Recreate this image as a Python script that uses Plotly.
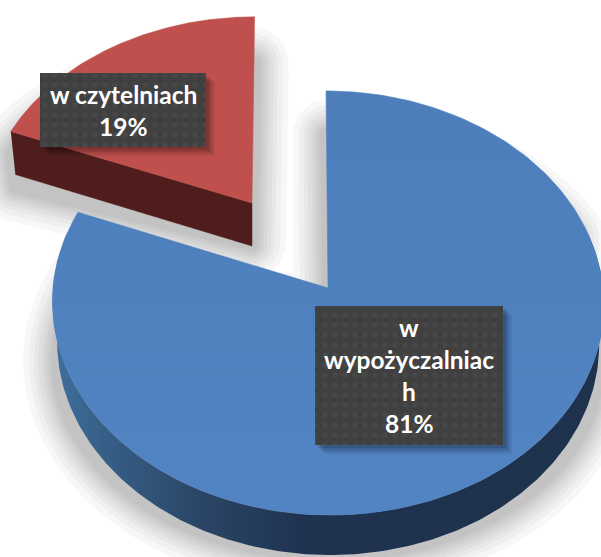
import numpy as np
import plotly.graph_objects as go

# ---- data
categories = ["w wypożyczalniach", "w czytelniach"]
shares = [81, 19]
label_lines = [["w", "wypożyczalniac", "h"], ["w czytelniach"]]

# ---- layout constants (pixels of the 601x557 page)
W, H = 601, 557
K = 0.0708            # perspective of the pie plane
RX, RY = 275, 211
STYLES = [
    dict(ax=328, ay=288, sx=1.0, sy=1.0, shear=-0.010, depth=40, shrink=0.983,
         shadow=dict(by=560, fy=0.91)),
    dict(ax=252, ay=203, sx=0.972, sy=0.945, shear=0.014, depth=43, shrink=0.981,
         shadow=dict(by=240, fy=0.80)),
]
BOXES = [(315, 306, 503, 445), (40, 73, 206, 147)]
LINE_H = 32
SHADOW_STEPS = [34, 28, 23, 19, 15, 12, 9, 6]

def rim(theta, st):
    X, Y = np.sin(theta), np.cos(theta)
    w = 1 + K * Y
    xp = st["sx"] * RX * X / w
    yp = st["sy"] * RY * Y / w
    return st["ax"] + xp + st["shear"] * yp, st["ay"] - yp

def sector(a0, a1, st):
    th = np.linspace(a0, a1, 240)
    x, y = rim(th, st)
    return np.r_[st["ax"], x, st["ax"]], np.r_[st["ay"], y, st["ay"]]

def lower(x, y, st):
    return st["ax"] + (x - st["ax"]) * st["shrink"], y + st["depth"]

# angles (clockwise from the top) come from the values
frac = np.cumsum([0] + shares) / sum(shares) * 2 * np.pi
spans = [(frac[0], frac[1]), (frac[1], frac[2])]

fig = go.Figure()

def poly(x, y, **kw):
    fig.add_trace(go.Scatter(x=x, y=y, mode="lines", fill="toself", hoverinfo="skip",
                             showlegend=False, **kw))

def hull_points(x, y):
    pts = sorted(set(zip(np.round(x, 1).tolist(), np.round(y, 1).tolist())))
    def half(p):
        out = []
        for q in p:
            while len(out) > 1 and (out[-1][0]-out[-2][0])*(q[1]-out[-2][1]) - (out[-1][1]-out[-2][1])*(q[0]-out[-2][0]) <= 0:
                out.pop()
            out.append(q)
        return out[:-1]
    h = half(pts) + half(pts[::-1])
    h.append(h[0])
    return np.array(h).T

def shadow_outline(i):
    st = STYLES[i]
    sh = st["shadow"]
    x, y = sector(*spans[i], st)
    lx, ly = lower(x, y, st)
    if i == 0:
        inner = slice(1, -1)
        rx, ry, lx2, ly2 = x[inner], y[inner], lx[inner], ly[inner]
        front = ly2 > st["ay"] - 40
        ox = np.where(front, lx2, rx)
        oy = np.where(front, ly2, ry)
        ox, oy = np.r_[st["ax"], ox, st["ax"]], np.r_[st["ay"], oy, st["ay"]]
    else:
        ox, oy = hull_points(np.r_[x, lx], np.r_[y, ly])
    return ox, sh["by"] + (oy - sh["by"]) * sh["fy"]

def offset_outline(x, y, d, n=900):
    seg = np.hypot(np.diff(x), np.diff(y))
    keep = np.r_[True, seg > 1e-6]
    x, y = x[keep], y[keep]
    s = np.r_[0, np.cumsum(np.hypot(np.diff(x), np.diff(y)))]
    t = np.linspace(0, s[-1], n)
    px, py = np.interp(t, s, x), np.interp(t, s, y)
    area = 0.5 * np.sum(px[:-1] * py[1:] - px[1:] * py[:-1])
    tx = np.roll(px[:-1], -2) - np.roll(px[:-1], 2)
    ty = np.roll(py[:-1], -2) - np.roll(py[:-1], 2)
    nrm = np.hypot(tx, ty) + 1e-9
    sign = 1 if area > 0 else -1
    ox = px[:-1] + sign * d * ty / nrm
    oy = py[:-1] - sign * d * tx / nrm
    return np.r_[ox, ox[0]], np.r_[oy, oy[0]]

# soft shadows: stacked translucent outlines
for i in range(2):
    bx, by = shadow_outline(i)
    for d in SHADOW_STEPS:
        ox, oy = offset_outline(bx, by, d)
        fig.add_trace(go.Scatter(x=ox, y=oy, mode="lines", fill="toself", hoverinfo="skip", showlegend=False,
                                 line=dict(width=0, color="black"), fillcolor="black", opacity=0.03))

# blue slice: side wall, top face
st = STYLES[0]
th = np.linspace(np.radians(75), np.radians(285), 240)
x, y = rim(th, st)
lx, ly = lower(x, y, st)
poly(np.r_[x, lx[::-1]], np.r_[y, ly[::-1]], line=dict(width=0, color="rgba(0,0,0,0)"),
     fillgradient=dict(type="horizontal", start=50, stop=610,
                       colorscale=[[0, "#40709f"], [0.09, "#376089"], [0.27, "#2a4566"], [0.45, "#1f3350"], [1, "#1e324d"]]))
x, y = sector(*spans[0], st)
poly(x, y, line=dict(width=0.6, color="#4f81bd"),
     fillgradient=dict(type="vertical", start=90, stop=515,
                       colorscale=[[0, "#4d7ebb"], [1, "#5284c3"]]))

# red slice: side wall, top face
st = STYLES[1]
a0, a1 = spans[1]
x, y = rim(np.array([a0]), st)
wx = np.r_[x[0], st["ax"]]
wy = np.r_[y[0], st["ay"]]
lwx, lwy = lower(wx, wy, st)
poly(np.r_[wx, lwx[::-1]], np.r_[wy, lwy[::-1]], line=dict(width=0.5, color="#4f1e1c"), fillcolor="#4f1e1c")
x, y = sector(a0, a1, st)
poly(x, y, line=dict(width=0.5, color="#c0504d"), fillcolor="#c0504d")

# data labels: dark textured boxes
for box, lines, share in zip(BOXES, label_lines, shares):
    x0, y0, x1, y1 = box
    for off, alpha in [(9, 0.07), (7, 0.08), (5, 0.1), (3, 0.12)]:
        poly([x0 + off, x1 + off, x1 + off, x0 + off, x0 + off],
             [y0 + off, y0 + off, y1 + off, y1 + off, y0 + off],
             line=dict(width=0, color="rgba(0,0,0,0)"), fillcolor=f"rgba(0,0,0,{alpha})")
    poly([x0, x1, x1, x0, x0], [y0, y0, y1, y1, y0],
         line=dict(width=0, color="rgba(0,0,0,0)"), fillcolor="#404040",
         fillpattern=dict(shape=".", bgcolor="#404040", fgcolor="#505050", size=10, solidity=0.2))
    texts = lines + [f"{share}%"]
    cy = (y0 + y1) / 2
    for j, t in enumerate(texts):
        fig.add_annotation(x=(x0 + x1) / 2, y=cy + (j - (len(texts) - 1) / 2) * LINE_H, text=f"<b>{t}</b>",
                           showarrow=False, xanchor="center", yanchor="middle",
                           font=dict(family="Lato", size=24.5, color="white"))

fig.update_layout(
    width=W, height=H, margin=dict(l=0, r=0, t=0, b=0), showlegend=False,
    paper_bgcolor="white", plot_bgcolor="white",
    xaxis=dict(range=[0, W], visible=False, fixedrange=True),
    yaxis=dict(range=[H, 0], visible=False, fixedrange=True),
)
fig.write_html("out.html", config={"displayModeBar": False},
               post_script="document.body.style.margin='0';document.body.style.overflow='hidden';")
